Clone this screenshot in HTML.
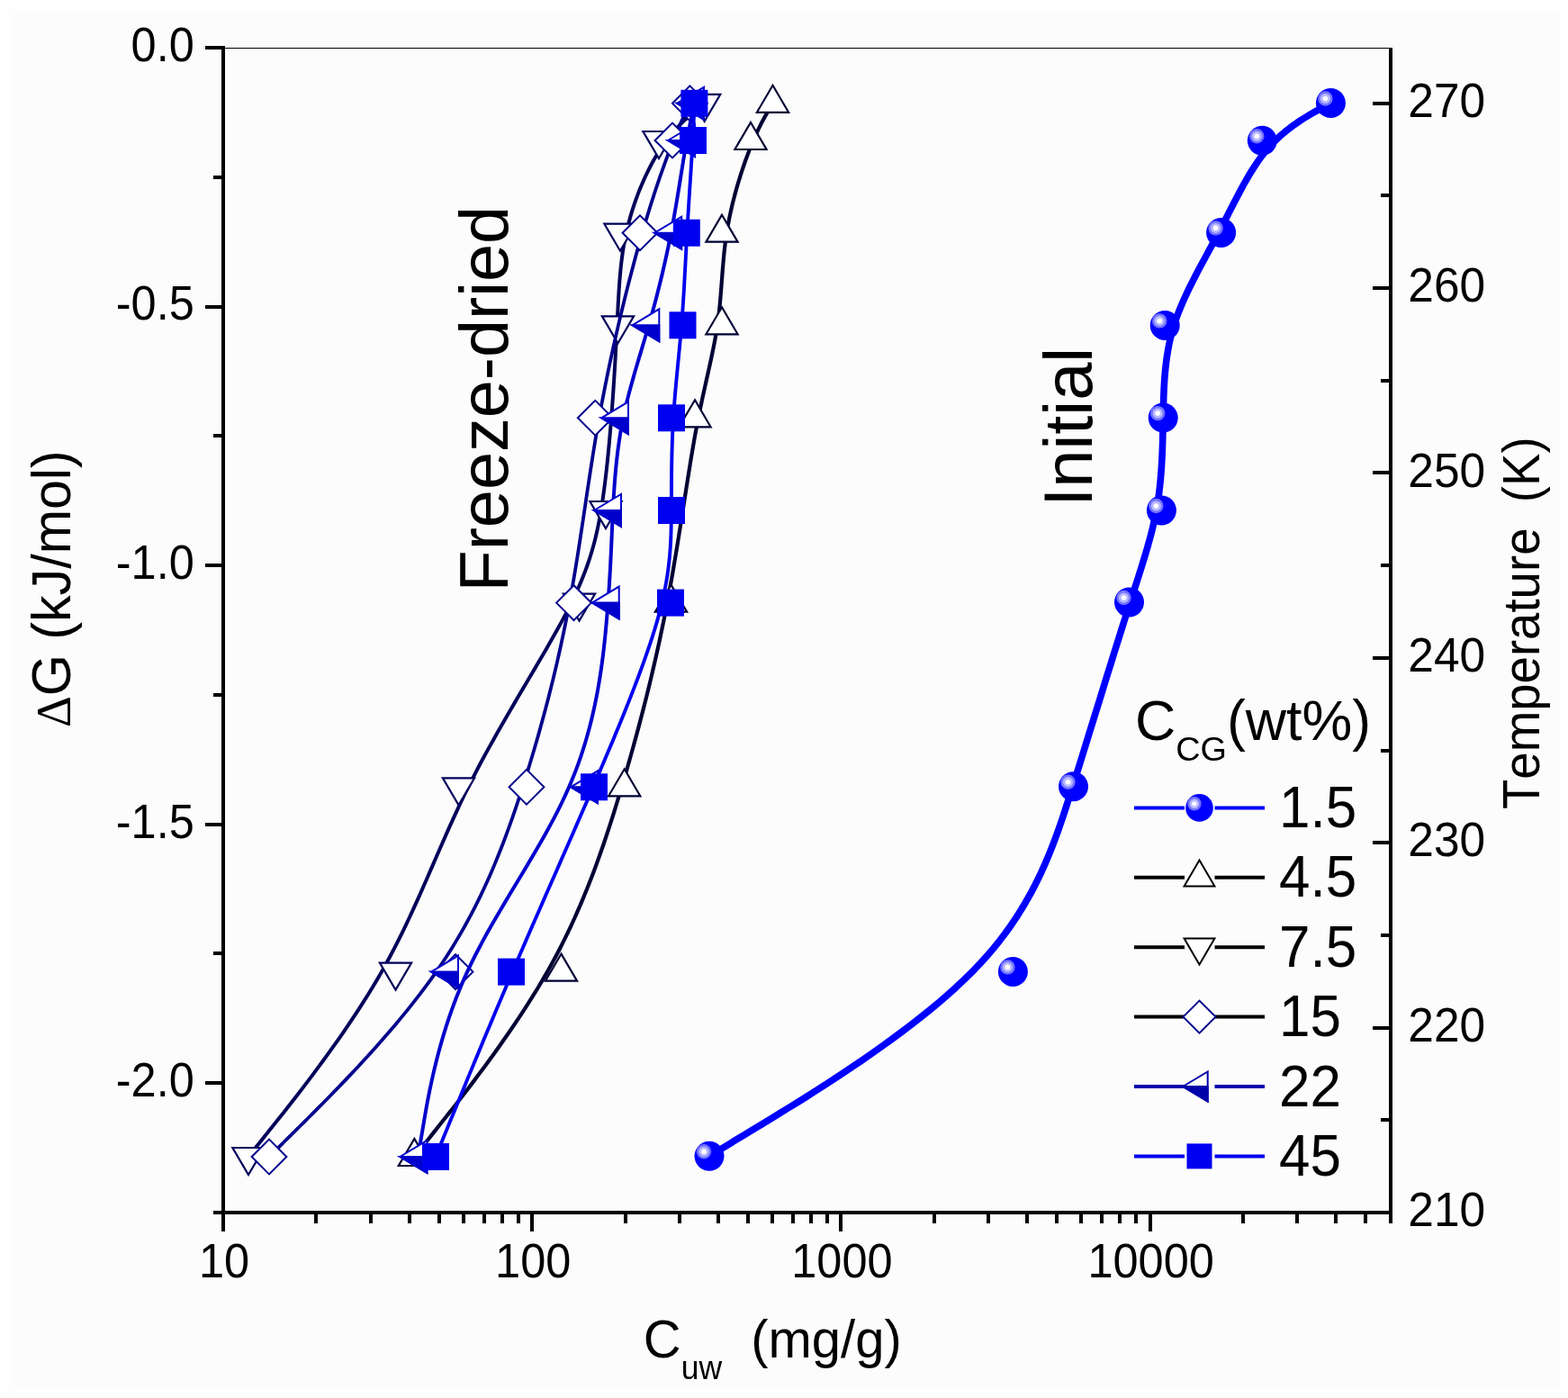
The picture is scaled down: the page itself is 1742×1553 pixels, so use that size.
<!DOCTYPE html><html><head><meta charset="utf-8"><title>Chart</title><style>html,body{margin:0;padding:0;background:#fdfdfd;overflow:hidden;}svg{display:block;}text{font-family:'Liberation Sans', Arial, sans-serif;fill:#000;font-kerning:none;}</style></head><body>
<svg width="1742" height="1553" viewBox="0 0 1742 1553">
<rect x="0" y="0" width="1742" height="1553" fill="#fefefe"/>
<rect x="13" y="13" width="1720" height="1528" fill="#fcfcfc"/>
<g shape-rendering="crispEdges"><line x1="248" y1="53.5" x2="1545" y2="53.5" stroke="#000" stroke-width="1.3"/><line x1="248" y1="51" x2="248" y2="1368" stroke="#000" stroke-width="4"/><line x1="1545" y1="53" x2="1545" y2="1359" stroke="#000" stroke-width="4"/><line x1="237" y1="1347" x2="1547" y2="1347" stroke="#000" stroke-width="4"/><line x1="228" y1="53" x2="248" y2="53" stroke="#000" stroke-width="4"/><line x1="237" y1="196.78" x2="248" y2="196.78" stroke="#000" stroke-width="4"/><line x1="228" y1="340.55" x2="248" y2="340.55" stroke="#000" stroke-width="4"/><line x1="237" y1="484.33" x2="248" y2="484.33" stroke="#000" stroke-width="4"/><line x1="228" y1="628.1" x2="248" y2="628.1" stroke="#000" stroke-width="4"/><line x1="237" y1="771.88" x2="248" y2="771.88" stroke="#000" stroke-width="4"/><line x1="228" y1="915.65" x2="248" y2="915.65" stroke="#000" stroke-width="4"/><line x1="237" y1="1059.43" x2="248" y2="1059.43" stroke="#000" stroke-width="4"/><line x1="228" y1="1203.2" x2="248" y2="1203.2" stroke="#000" stroke-width="4"/><line x1="237" y1="1346.98" x2="248" y2="1346.98" stroke="#000" stroke-width="4"/><line x1="248" y1="1347" x2="248" y2="1368" stroke="#000" stroke-width="4"/><line x1="351.31" y1="1347" x2="351.31" y2="1359" stroke="#000" stroke-width="4"/><line x1="411.75" y1="1347" x2="411.75" y2="1359" stroke="#000" stroke-width="4"/><line x1="454.63" y1="1347" x2="454.63" y2="1359" stroke="#000" stroke-width="4"/><line x1="487.89" y1="1347" x2="487.89" y2="1359" stroke="#000" stroke-width="4"/><line x1="515.06" y1="1347" x2="515.06" y2="1359" stroke="#000" stroke-width="4"/><line x1="538.04" y1="1347" x2="538.04" y2="1359" stroke="#000" stroke-width="4"/><line x1="557.94" y1="1347" x2="557.94" y2="1359" stroke="#000" stroke-width="4"/><line x1="575.5" y1="1347" x2="575.5" y2="1359" stroke="#000" stroke-width="4"/><line x1="591.2" y1="1347" x2="591.2" y2="1368" stroke="#000" stroke-width="4"/><line x1="694.51" y1="1347" x2="694.51" y2="1359" stroke="#000" stroke-width="4"/><line x1="754.95" y1="1347" x2="754.95" y2="1359" stroke="#000" stroke-width="4"/><line x1="797.83" y1="1347" x2="797.83" y2="1359" stroke="#000" stroke-width="4"/><line x1="831.09" y1="1347" x2="831.09" y2="1359" stroke="#000" stroke-width="4"/><line x1="858.26" y1="1347" x2="858.26" y2="1359" stroke="#000" stroke-width="4"/><line x1="881.24" y1="1347" x2="881.24" y2="1359" stroke="#000" stroke-width="4"/><line x1="901.14" y1="1347" x2="901.14" y2="1359" stroke="#000" stroke-width="4"/><line x1="918.7" y1="1347" x2="918.7" y2="1359" stroke="#000" stroke-width="4"/><line x1="934.4" y1="1347" x2="934.4" y2="1368" stroke="#000" stroke-width="4"/><line x1="1037.71" y1="1347" x2="1037.71" y2="1359" stroke="#000" stroke-width="4"/><line x1="1098.15" y1="1347" x2="1098.15" y2="1359" stroke="#000" stroke-width="4"/><line x1="1141.03" y1="1347" x2="1141.03" y2="1359" stroke="#000" stroke-width="4"/><line x1="1174.29" y1="1347" x2="1174.29" y2="1359" stroke="#000" stroke-width="4"/><line x1="1201.46" y1="1347" x2="1201.46" y2="1359" stroke="#000" stroke-width="4"/><line x1="1224.44" y1="1347" x2="1224.44" y2="1359" stroke="#000" stroke-width="4"/><line x1="1244.34" y1="1347" x2="1244.34" y2="1359" stroke="#000" stroke-width="4"/><line x1="1261.9" y1="1347" x2="1261.9" y2="1359" stroke="#000" stroke-width="4"/><line x1="1277.6" y1="1347" x2="1277.6" y2="1368" stroke="#000" stroke-width="4"/><line x1="1380.91" y1="1347" x2="1380.91" y2="1359" stroke="#000" stroke-width="4"/><line x1="1441.35" y1="1347" x2="1441.35" y2="1359" stroke="#000" stroke-width="4"/><line x1="1484.23" y1="1347" x2="1484.23" y2="1359" stroke="#000" stroke-width="4"/><line x1="1517.49" y1="1347" x2="1517.49" y2="1359" stroke="#000" stroke-width="4"/><line x1="1544.66" y1="1347" x2="1544.66" y2="1359" stroke="#000" stroke-width="4"/><line x1="1525" y1="1347" x2="1545" y2="1347" stroke="#000" stroke-width="4"/><line x1="1534" y1="1244.3" x2="1545" y2="1244.3" stroke="#000" stroke-width="4"/><line x1="1525" y1="1141.6" x2="1545" y2="1141.6" stroke="#000" stroke-width="4"/><line x1="1534" y1="1038.9" x2="1545" y2="1038.9" stroke="#000" stroke-width="4"/><line x1="1525" y1="936.2" x2="1545" y2="936.2" stroke="#000" stroke-width="4"/><line x1="1534" y1="833.5" x2="1545" y2="833.5" stroke="#000" stroke-width="4"/><line x1="1525" y1="730.8" x2="1545" y2="730.8" stroke="#000" stroke-width="4"/><line x1="1534" y1="628.1" x2="1545" y2="628.1" stroke="#000" stroke-width="4"/><line x1="1525" y1="525.4" x2="1545" y2="525.4" stroke="#000" stroke-width="4"/><line x1="1534" y1="422.7" x2="1545" y2="422.7" stroke="#000" stroke-width="4"/><line x1="1525" y1="320" x2="1545" y2="320" stroke="#000" stroke-width="4"/><line x1="1534" y1="217.3" x2="1545" y2="217.3" stroke="#000" stroke-width="4"/><line x1="1525" y1="114.6" x2="1545" y2="114.6" stroke="#000" stroke-width="4"/></g>
<text transform="translate(215.8,67.9) scale(1,1.057)" font-size="50.5" text-anchor="end">0.0</text>
<text transform="translate(215.8,355.45) scale(1,1.057)" font-size="50.5" text-anchor="end">-0.5</text>
<text transform="translate(215.8,643) scale(1,1.057)" font-size="50.5" text-anchor="end">-1.0</text>
<text transform="translate(215.8,930.55) scale(1,1.057)" font-size="50.5" text-anchor="end">-1.5</text>
<text transform="translate(215.8,1218.1) scale(1,1.057)" font-size="50.5" text-anchor="end">-2.0</text>
<text transform="translate(249,1419.1) scale(1,1.057)" font-size="50.5" text-anchor="middle">10</text>
<text transform="translate(592.2,1419.1) scale(1,1.057)" font-size="50.5" text-anchor="middle">100</text>
<text transform="translate(935.4,1419.1) scale(1,1.057)" font-size="50.5" text-anchor="middle">1000</text>
<text transform="translate(1278.6,1419.1) scale(1,1.057)" font-size="50.5" text-anchor="middle">10000</text>
<text transform="translate(1564.3,1362.1) scale(1,1.045)" font-size="51.5">210</text>
<text transform="translate(1564.3,1156.7) scale(1,1.045)" font-size="51.5">220</text>
<text transform="translate(1564.3,951.3) scale(1,1.045)" font-size="51.5">230</text>
<text transform="translate(1564.3,745.9) scale(1,1.045)" font-size="51.5">240</text>
<text transform="translate(1564.3,540.5) scale(1,1.045)" font-size="51.5">250</text>
<text transform="translate(1564.3,335.1) scale(1,1.045)" font-size="51.5">260</text>
<text transform="translate(1564.3,129.7) scale(1,1.045)" font-size="51.5">270</text>
<text transform="translate(77.8,807.9) rotate(-90) scale(1,1.03)" font-size="59.2"><tspan font-family="'Liberation Serif', 'Times New Roman', serif" font-size="54">&#916;</tspan><tspan font-size="59.2">G (kJ/mol)</tspan></text>
<text transform="translate(1710,899) rotate(-90) scale(1,1.06)" font-size="54.6">Temperature <tspan dx="13.2">(K)</tspan></text>
<text transform="translate(714.8,1508) scale(1,1.03)" font-size="58">C<tspan font-size="35.5" dy="23">uw</tspan><tspan dy="-23" font-size="58">&#160; (mg/g)</tspan></text>
<text transform="translate(564.2,657.5) rotate(-90)" font-size="75.6">Freeze-dried</text>
<text transform="translate(1212.8,562.8) rotate(-90)" font-size="75.8">Initial</text>
<path d="M1478.4,114.5 L1478.4,114.5 L1478.39,114.5 L1478.38,114.51 L1478.34,114.53 L1478.29,114.56 L1478.2,114.61 L1478.09,114.67 L1477.93,114.76 L1477.73,114.87 L1477.48,115 L1477.18,115.17 L1476.81,115.37 L1476.38,115.61 L1475.88,115.88 L1475.3,116.2 L1474.64,116.56 L1473.89,116.98 L1473.05,117.44 L1472.11,117.96 L1471.06,118.53 L1469.9,119.17 L1468.63,119.87 L1467.24,120.63 L1465.72,121.47 L1464.07,122.37 L1462.29,123.36 L1460.4,124.41 L1458.4,125.54 L1456.3,126.76 L1454.1,128.05 L1451.82,129.42 L1449.46,130.87 L1447.03,132.41 L1444.54,134.03 L1441.99,135.73 L1439.4,137.53 L1436.76,139.41 L1434.1,141.38 L1431.41,143.45 L1428.7,145.6 L1425.98,147.85 L1423.26,150.2 L1420.55,152.64 L1417.86,155.18 L1415.18,157.82 L1412.54,160.56 L1409.93,163.4 L1407.37,166.35 L1404.85,169.4 L1402.39,172.55 L1399.98,175.8 L1397.6,179.13 L1395.27,182.56 L1392.97,186.07 L1390.7,189.65 L1388.46,193.32 L1386.25,197.05 L1384.06,200.85 L1381.89,204.71 L1379.74,208.63 L1377.59,212.6 L1375.46,216.62 L1373.33,220.68 L1371.2,224.78 L1369.07,228.92 L1366.93,233.1 L1364.79,237.29 L1362.63,241.52 L1360.46,245.76 L1358.27,250.01 L1356.05,254.28 L1353.82,258.55 L1351.55,262.82 L1349.26,267.1 L1346.96,271.38 L1344.64,275.65 L1342.31,279.93 L1339.98,284.21 L1337.66,288.49 L1335.35,292.78 L1333.05,297.06 L1330.78,301.34 L1328.53,305.63 L1326.31,309.91 L1324.13,314.2 L1322,318.48 L1319.91,322.77 L1317.88,327.06 L1315.91,331.34 L1314,335.63 L1312.17,339.92 L1310.41,344.21 L1308.74,348.49 L1307.15,352.78 L1305.66,357.06 L1304.27,361.35 L1302.98,365.64 L1301.79,369.92 L1300.69,374.2 L1299.69,378.49 L1298.78,382.77 L1297.95,387.05 L1297.2,391.34 L1296.52,395.62 L1295.91,399.9 L1295.37,404.18 L1294.89,408.47 L1294.46,412.75 L1294.09,417.03 L1293.77,421.31 L1293.49,425.59 L1293.25,429.87 L1293.04,434.16 L1292.87,438.44 L1292.72,442.72 L1292.6,447 L1292.49,451.28 L1292.4,455.57 L1292.31,459.85 L1292.23,464.13 L1292.15,468.42 L1292.07,472.7 L1291.99,476.98 L1291.89,481.27 L1291.79,485.55 L1291.68,489.84 L1291.55,494.12 L1291.4,498.4 L1291.23,502.69 L1291.05,506.97 L1290.83,511.25 L1290.59,515.54 L1290.32,519.82 L1290.02,524.1 L1289.69,528.38 L1289.32,532.66 L1288.91,536.94 L1288.45,541.21 L1287.96,545.49 L1287.41,549.76 L1286.82,554.04 L1286.17,558.31 L1285.47,562.58 L1284.72,566.85 L1283.9,571.12 L1283.03,575.39 L1282.1,579.68 L1281.11,583.99 L1280.06,588.33 L1278.96,592.7 L1277.8,597.12 L1276.59,601.59 L1275.32,606.12 L1274,610.71 L1272.62,615.37 L1271.2,620.12 L1269.72,624.96 L1268.18,629.89 L1266.6,634.92 L1264.97,640.07 L1263.28,645.33 L1261.55,650.72 L1259.77,656.24 L1257.94,661.9 L1256.06,667.72 L1254.14,673.68 L1252.17,679.81 L1250.15,686.12 L1248.09,692.59 L1245.98,699.24 L1243.83,706.05 L1241.65,713.02 L1239.42,720.14 L1237.15,727.4 L1234.85,734.79 L1232.51,742.31 L1230.14,749.95 L1227.74,757.7 L1225.31,765.56 L1222.85,773.51 L1220.36,781.55 L1217.85,789.68 L1215.31,797.88 L1212.75,806.15 L1210.17,814.48 L1207.57,822.86 L1204.96,831.29 L1202.32,839.76 L1199.67,848.26 L1197.01,856.78 L1194.33,865.32 L1191.65,873.87 L1188.95,882.42 L1186.23,890.97 L1183.46,899.52 L1180.62,908.08 L1177.69,916.64 L1174.66,925.19 L1171.51,933.75 L1168.21,942.31 L1164.75,950.87 L1161.11,959.43 L1157.27,967.99 L1153.21,976.55 L1148.91,985.12 L1144.35,993.68 L1139.52,1002.24 L1134.39,1010.8 L1128.94,1019.36 L1123.16,1027.92 L1117.02,1036.48 L1110.51,1045.04 L1103.61,1053.6 L1096.29,1062.16 L1088.55,1070.71 L1080.35,1079.27 L1071.7,1087.82 L1062.62,1096.35 L1053.15,1104.86 L1043.36,1113.31 L1033.26,1121.71 L1022.92,1130.04 L1012.38,1138.27 L1001.67,1146.4 L990.84,1154.4 L979.94,1162.28 L969.01,1170 L958.1,1177.56 L947.24,1184.95 L936.49,1192.14 L925.88,1199.12 L915.46,1205.88 L905.28,1212.4 L895.37,1218.67 L885.79,1224.67 L876.57,1230.39 L867.76,1235.81 L859.4,1240.92 L851.55,1245.71 L844.23,1250.15 L837.49,1254.24 L831.31,1258 L825.67,1261.42 L820.54,1264.54 L815.9,1267.36 L811.72,1269.89 L807.99,1272.16 L804.66,1274.18 L801.73,1275.96 L799.16,1277.52 L796.94,1278.87 L795.03,1280.03 L793.41,1281.01 L792.07,1281.83 L790.97,1282.5 L790.08,1283.04 L789.4,1283.45 L788.88,1283.77 L788.51,1283.99 L788.26,1284.14 L788.11,1284.23 L788.03,1284.28 L788,1284.3 L788,1284.3" fill="none" stroke="#0000ff" stroke-width="7.6" stroke-linejoin="round" stroke-linecap="round"/>
<circle cx="1478.4" cy="114.5" r="16.5" fill="#0000ff"/><circle cx="1472.4" cy="109.5" r="8.2" fill="#7474ff"/><circle cx="1472.4" cy="109.5" r="5.6" fill="#b8b8ff"/><circle cx="1472.4" cy="109.5" r="2.8" fill="#ffffff"/>
<circle cx="1402.3" cy="156.3" r="16.5" fill="#0000ff"/><circle cx="1396.3" cy="151.3" r="8.2" fill="#7474ff"/><circle cx="1396.3" cy="151.3" r="5.6" fill="#b8b8ff"/><circle cx="1396.3" cy="151.3" r="2.8" fill="#ffffff"/>
<circle cx="1356.6" cy="258.4" r="16.5" fill="#0000ff"/><circle cx="1350.6" cy="253.4" r="8.2" fill="#7474ff"/><circle cx="1350.6" cy="253.4" r="5.6" fill="#b8b8ff"/><circle cx="1350.6" cy="253.4" r="2.8" fill="#ffffff"/>
<circle cx="1294.2" cy="361.4" r="16.5" fill="#0000ff"/><circle cx="1288.2" cy="356.4" r="8.2" fill="#7474ff"/><circle cx="1288.2" cy="356.4" r="5.6" fill="#b8b8ff"/><circle cx="1288.2" cy="356.4" r="2.8" fill="#ffffff"/>
<circle cx="1292.2" cy="464.1" r="16.5" fill="#0000ff"/><circle cx="1286.2" cy="459.1" r="8.2" fill="#7474ff"/><circle cx="1286.2" cy="459.1" r="5.6" fill="#b8b8ff"/><circle cx="1286.2" cy="459.1" r="2.8" fill="#ffffff"/>
<circle cx="1290.4" cy="567" r="16.5" fill="#0000ff"/><circle cx="1284.4" cy="562" r="8.2" fill="#7474ff"/><circle cx="1284.4" cy="562" r="5.6" fill="#b8b8ff"/><circle cx="1284.4" cy="562" r="2.8" fill="#ffffff"/>
<circle cx="1254.5" cy="669" r="16.5" fill="#0000ff"/><circle cx="1248.5" cy="664" r="8.2" fill="#7474ff"/><circle cx="1248.5" cy="664" r="5.6" fill="#b8b8ff"/><circle cx="1248.5" cy="664" r="2.8" fill="#ffffff"/>
<circle cx="1192.5" cy="873.7" r="16.5" fill="#0000ff"/><circle cx="1186.5" cy="868.7" r="8.2" fill="#7474ff"/><circle cx="1186.5" cy="868.7" r="5.6" fill="#b8b8ff"/><circle cx="1186.5" cy="868.7" r="2.8" fill="#ffffff"/>
<circle cx="1125.4" cy="1079.4" r="16.5" fill="#0000ff"/><circle cx="1119.4" cy="1074.4" r="8.2" fill="#7474ff"/><circle cx="1119.4" cy="1074.4" r="5.6" fill="#b8b8ff"/><circle cx="1119.4" cy="1074.4" r="2.8" fill="#ffffff"/>
<circle cx="788" cy="1284.3" r="16.5" fill="#0000ff"/><circle cx="782" cy="1279.3" r="8.2" fill="#7474ff"/><circle cx="782" cy="1279.3" r="5.6" fill="#b8b8ff"/><circle cx="782" cy="1279.3" r="2.8" fill="#ffffff"/>
<path d="M858.5,114.8 L858.5,114.8 L858.5,114.8 L858.49,114.81 L858.48,114.83 L858.46,114.86 L858.44,114.91 L858.4,114.97 L858.35,115.05 L858.28,115.16 L858.2,115.3 L858.11,115.46 L857.99,115.66 L857.85,115.89 L857.69,116.16 L857.5,116.48 L857.29,116.83 L857.05,117.24 L856.78,117.7 L856.47,118.21 L856.14,118.77 L855.76,119.4 L855.35,120.09 L854.91,120.84 L854.42,121.67 L853.89,122.56 L853.31,123.53 L852.7,124.57 L852.05,125.69 L851.36,126.88 L850.63,128.16 L849.87,129.51 L849.08,130.95 L848.25,132.47 L847.39,134.07 L846.5,135.76 L845.58,137.54 L844.64,139.41 L843.66,141.36 L842.67,143.41 L841.65,145.56 L840.6,147.8 L839.53,150.13 L838.45,152.56 L837.34,155.1 L836.22,157.73 L835.08,160.47 L833.92,163.31 L832.75,166.25 L831.57,169.3 L830.37,172.45 L829.17,175.7 L827.97,179.05 L826.76,182.48 L825.56,186 L824.35,189.6 L823.16,193.27 L821.98,197.01 L820.8,200.83 L819.65,204.7 L818.51,208.63 L817.39,212.61 L816.3,216.65 L815.24,220.72 L814.2,224.84 L813.2,228.99 L812.23,233.18 L811.3,237.39 L810.41,241.62 L809.57,245.87 L808.77,250.13 L808.03,254.41 L807.33,258.68 L806.69,262.96 L806.11,267.24 L805.56,271.51 L805.06,275.79 L804.6,280.07 L804.17,284.34 L803.77,288.62 L803.4,292.9 L803.04,297.17 L802.7,301.45 L802.37,305.73 L802.04,310.01 L801.72,314.28 L801.39,318.56 L801.06,322.84 L800.72,327.12 L800.36,331.4 L799.97,335.68 L799.57,339.96 L799.13,344.24 L798.66,348.52 L798.15,352.8 L797.6,357.08 L797,361.37 L796.35,365.65 L795.65,369.94 L794.9,374.25 L794.11,378.58 L793.27,382.95 L792.4,387.34 L791.49,391.79 L790.54,396.28 L789.56,400.84 L788.55,405.46 L787.51,410.16 L786.45,414.94 L785.36,419.81 L784.25,424.77 L783.13,429.84 L781.99,435.02 L780.83,440.32 L779.67,445.74 L778.49,451.3 L777.31,457 L776.13,462.85 L774.95,468.85 L773.76,475.01 L772.58,481.35 L771.41,487.86 L770.24,494.54 L769.07,501.38 L767.9,508.38 L766.73,515.53 L765.56,522.82 L764.37,530.24 L763.18,537.78 L761.98,545.44 L760.77,553.22 L759.54,561.1 L758.3,569.07 L757.03,577.13 L755.75,585.27 L754.44,593.49 L753.11,601.77 L751.75,610.11 L750.36,618.5 L748.93,626.93 L747.48,635.4 L745.99,643.9 L744.46,652.42 L742.89,660.96 L741.28,669.5 L739.63,678.04 L737.93,686.58 L736.19,695.12 L734.41,703.66 L732.59,712.2 L730.72,720.73 L728.82,729.27 L726.87,737.81 L724.88,746.34 L722.86,754.88 L720.79,763.41 L718.69,771.95 L716.55,780.49 L714.37,789.02 L712.15,797.56 L709.9,806.09 L707.61,814.63 L705.29,823.17 L702.93,831.7 L700.54,840.24 L698.11,848.78 L695.65,857.32 L693.16,865.86 L690.63,874.4 L688.07,882.94 L685.48,891.49 L682.84,900.03 L680.15,908.57 L677.41,917.12 L674.61,925.67 L671.75,934.22 L668.82,942.76 L665.81,951.31 L662.72,959.86 L659.55,968.41 L656.28,976.96 L652.92,985.52 L649.45,994.07 L645.88,1002.62 L642.2,1011.18 L638.4,1019.73 L634.47,1028.28 L630.41,1036.84 L626.23,1045.39 L621.9,1053.95 L617.42,1062.5 L612.8,1071.06 L608.02,1079.62 L603.08,1088.17 L598,1096.71 L592.79,1105.22 L587.48,1113.68 L582.08,1122.09 L576.62,1130.42 L571.1,1138.66 L565.55,1146.8 L559.99,1154.82 L554.43,1162.71 L548.9,1170.45 L543.41,1178.02 L537.98,1185.42 L532.63,1192.62 L527.38,1199.62 L522.25,1206.39 L517.25,1212.93 L512.4,1219.21 L507.73,1225.22 L503.24,1230.96 L498.97,1236.39 L494.92,1241.51 L491.12,1246.31 L487.58,1250.77 L484.33,1254.87 L481.34,1258.63 L478.61,1262.07 L476.13,1265.19 L473.89,1268.01 L471.87,1270.56 L470.06,1272.83 L468.45,1274.86 L467.04,1276.64 L465.8,1278.2 L464.72,1279.56 L463.8,1280.72 L463.02,1281.7 L462.37,1282.52 L461.83,1283.19 L461.41,1283.73 L461.07,1284.15 L460.82,1284.47 L460.65,1284.69 L460.53,1284.84 L460.45,1284.93 L460.42,1284.98 L460.4,1285 L460.4,1285" fill="none" stroke="#000033" stroke-width="4.2" stroke-linejoin="round" stroke-linecap="round"/><path d="M858.5,94.8 L876.1,124.8 L840.9,124.8 Z" fill="#fff" stroke="#000033" stroke-width="2.2" stroke-linejoin="miter"/><path d="M834,136 L851.6,166 L816.4,166 Z" fill="#fff" stroke="#000033" stroke-width="2.2" stroke-linejoin="miter"/><path d="M802,238.7 L819.6,268.7 L784.4,268.7 Z" fill="#fff" stroke="#000033" stroke-width="2.2" stroke-linejoin="miter"/><path d="M802,341.3 L819.6,371.3 L784.4,371.3 Z" fill="#fff" stroke="#000033" stroke-width="2.2" stroke-linejoin="miter"/><path d="M772,444.3 L789.6,474.3 L754.4,474.3 Z" fill="#fff" stroke="#000033" stroke-width="2.2" stroke-linejoin="miter"/><path d="M745.5,649.6 L763.1,679.6 L727.9,679.6 Z" fill="#fff" stroke="#000033" stroke-width="2.2" stroke-linejoin="miter"/><path d="M693.7,854.3 L711.3,884.3 L676.1,884.3 Z" fill="#fff" stroke="#000033" stroke-width="2.2" stroke-linejoin="miter"/><path d="M623.5,1059.6 L641.1,1089.6 L605.9,1089.6 Z" fill="#fff" stroke="#000033" stroke-width="2.2" stroke-linejoin="miter"/><path d="M460.4,1265 L478,1295 L442.8,1295 Z" fill="#fff" stroke="#000033" stroke-width="2.2" stroke-linejoin="miter"/>
<path d="M782.7,114.8 L782.7,114.8 L782.7,114.8 L782.68,114.81 L782.66,114.83 L782.62,114.86 L782.57,114.91 L782.49,114.97 L782.39,115.05 L782.25,115.16 L782.09,115.3 L781.89,115.46 L781.64,115.66 L781.36,115.89 L781.02,116.16 L780.64,116.48 L780.2,116.83 L779.7,117.24 L779.14,117.7 L778.51,118.21 L777.81,118.77 L777.04,119.4 L776.19,120.09 L775.26,120.84 L774.25,121.67 L773.15,122.56 L771.97,123.53 L770.7,124.57 L769.37,125.69 L767.96,126.88 L766.48,128.16 L764.94,129.51 L763.34,130.95 L761.69,132.47 L759.99,134.07 L758.24,135.76 L756.45,137.54 L754.63,139.41 L752.77,141.36 L750.88,143.41 L748.97,145.56 L747.03,147.8 L745.08,150.13 L743.12,152.56 L741.15,155.1 L739.18,157.73 L737.21,160.47 L735.24,163.31 L733.28,166.25 L731.34,169.3 L729.41,172.45 L727.5,175.7 L725.61,179.05 L723.74,182.48 L721.9,186 L720.08,189.6 L718.3,193.27 L716.54,197.01 L714.83,200.83 L713.15,204.7 L711.5,208.63 L709.9,212.61 L708.35,216.65 L706.84,220.72 L705.38,224.84 L703.97,228.99 L702.62,233.18 L701.32,237.39 L700.08,241.62 L698.9,245.87 L697.78,250.13 L696.73,254.41 L695.75,258.68 L694.84,262.96 L693.99,267.25 L693.21,271.55 L692.48,275.87 L691.81,280.22 L691.19,284.61 L690.62,289.05 L690.1,293.53 L689.61,298.08 L689.17,302.69 L688.75,307.38 L688.36,312.15 L688,317 L687.67,321.96 L687.35,327.02 L687.04,332.19 L686.75,337.48 L686.46,342.9 L686.17,348.45 L685.89,354.14 L685.6,359.99 L685.3,365.99 L684.99,372.15 L684.67,378.48 L684.32,384.99 L683.96,391.67 L683.58,398.49 L683.18,405.45 L682.75,412.52 L682.31,419.71 L681.84,426.98 L681.36,434.32 L680.85,441.73 L680.32,449.18 L679.76,456.66 L679.19,464.15 L678.59,471.64 L677.96,479.12 L677.31,486.57 L676.64,493.98 L675.94,501.32 L675.22,508.59 L674.47,515.78 L673.7,522.85 L672.9,529.81 L672.07,536.63 L671.22,543.31 L670.33,549.82 L669.42,556.15 L668.48,562.32 L667.49,568.35 L666.46,574.23 L665.37,580 L664.23,585.67 L663.02,591.24 L661.73,596.74 L660.37,602.18 L658.92,607.57 L657.38,612.93 L655.74,618.28 L654,623.62 L652.14,628.98 L650.17,634.37 L648.07,639.81 L645.85,645.3 L643.49,650.86 L640.98,656.51 L638.33,662.27 L635.51,668.14 L632.54,674.15 L629.4,680.3 L626.08,686.62 L622.59,693.11 L618.92,699.77 L615.1,706.59 L611.14,713.56 L607.04,720.69 L602.82,727.96 L598.49,735.35 L594.07,742.88 L589.56,750.52 L584.98,758.28 L580.34,766.13 L575.66,774.09 L570.93,782.13 L566.19,790.26 L561.44,798.46 L556.68,806.73 L551.94,815.05 L547.23,823.43 L542.55,831.86 L537.93,840.32 L533.36,848.81 L528.87,857.33 L524.47,865.86 L520.17,874.4 L515.97,882.94 L511.87,891.49 L507.87,900.03 L503.93,908.57 L500.07,917.12 L496.26,925.67 L492.49,934.22 L488.75,942.76 L485.03,951.31 L481.32,959.86 L477.61,968.41 L473.89,976.96 L470.13,985.52 L466.35,994.07 L462.51,1002.62 L458.61,1011.18 L454.64,1019.73 L450.59,1028.28 L446.45,1036.84 L442.2,1045.39 L437.83,1053.95 L433.34,1062.5 L428.7,1071.06 L423.92,1079.62 L418.97,1088.17 L413.89,1096.71 L408.68,1105.22 L403.36,1113.68 L397.95,1122.09 L392.48,1130.42 L386.95,1138.66 L381.39,1146.8 L375.82,1154.82 L370.25,1162.71 L364.71,1170.45 L359.21,1178.02 L353.77,1185.42 L348.41,1192.62 L343.14,1199.62 L338,1206.39 L332.99,1212.93 L328.13,1219.21 L323.44,1225.22 L318.95,1230.96 L314.66,1236.39 L310.61,1241.51 L306.8,1246.31 L303.25,1250.77 L299.98,1254.87 L296.99,1258.63 L294.26,1262.07 L291.77,1265.19 L289.52,1268.01 L287.5,1270.56 L285.68,1272.83 L284.07,1274.86 L282.65,1276.64 L281.41,1278.2 L280.33,1279.56 L279.41,1280.72 L278.62,1281.7 L277.97,1282.52 L277.44,1283.19 L277.01,1283.73 L276.68,1284.15 L276.43,1284.47 L276.25,1284.69 L276.13,1284.84 L276.05,1284.93 L276.02,1284.98 L276,1285 L276,1285" fill="none" stroke="#00005a" stroke-width="4.0" stroke-linejoin="round" stroke-linecap="round"/><path d="M782.7,134.8 L800.3,104.8 L765.1,104.8 Z" fill="#fff" stroke="#00005a" stroke-width="2.2"/><path d="M732,176 L749.6,146 L714.4,146 Z" fill="#fff" stroke="#00005a" stroke-width="2.2"/><path d="M689,278.7 L706.6,248.7 L671.4,248.7 Z" fill="#fff" stroke="#00005a" stroke-width="2.2"/><path d="M686.5,381.3 L704.1,351.3 L668.9,351.3 Z" fill="#fff" stroke="#00005a" stroke-width="2.2"/><path d="M673,587 L690.6,557 L655.4,557 Z" fill="#fff" stroke="#00005a" stroke-width="2.2"/><path d="M643.5,689.6 L661.1,659.6 L625.9,659.6 Z" fill="#fff" stroke="#00005a" stroke-width="2.2"/><path d="M509.5,894.3 L527.1,864.3 L491.9,864.3 Z" fill="#fff" stroke="#00005a" stroke-width="2.2"/><path d="M439.5,1099.6 L457.1,1069.6 L421.9,1069.6 Z" fill="#fff" stroke="#00005a" stroke-width="2.2"/><path d="M276,1305 L293.6,1275 L258.4,1275 Z" fill="#fff" stroke="#00005a" stroke-width="2.2"/>
<path d="M766.4,114.8 L766.4,114.8 L766.4,114.8 L766.39,114.81 L766.39,114.83 L766.37,114.86 L766.35,114.91 L766.32,114.97 L766.28,115.05 L766.23,115.16 L766.17,115.3 L766.09,115.46 L766,115.66 L765.89,115.89 L765.76,116.16 L765.61,116.48 L765.44,116.83 L765.25,117.24 L765.04,117.7 L764.8,118.21 L764.53,118.77 L764.23,119.4 L763.91,120.09 L763.55,120.84 L763.17,121.67 L762.75,122.56 L762.29,123.53 L761.8,124.57 L761.28,125.69 L760.73,126.88 L760.14,128.16 L759.52,129.51 L758.87,130.95 L758.19,132.47 L757.47,134.07 L756.73,135.76 L755.95,137.54 L755.14,139.41 L754.3,141.36 L753.43,143.41 L752.53,145.56 L751.59,147.8 L750.63,150.13 L749.64,152.56 L748.62,155.1 L747.57,157.73 L746.48,160.47 L745.37,163.31 L744.23,166.25 L743.06,169.3 L741.87,172.46 L740.64,175.74 L739.39,179.13 L738.11,182.64 L736.8,186.27 L735.46,190.02 L734.1,193.91 L732.7,197.92 L731.29,202.07 L729.84,206.35 L728.37,210.77 L726.87,215.34 L725.35,220.05 L723.8,224.92 L722.22,229.93 L720.62,235.1 L718.99,240.42 L717.34,245.91 L715.67,251.56 L713.96,257.37 L712.24,263.36 L710.49,269.52 L708.72,275.85 L706.92,282.36 L705.1,289.04 L703.27,295.89 L701.42,302.89 L699.55,310.04 L697.68,317.33 L695.8,324.76 L693.92,332.31 L692.03,339.98 L690.15,347.77 L688.27,355.65 L686.4,363.64 L684.55,371.71 L682.7,379.86 L680.87,388.09 L679.06,396.39 L677.27,404.74 L675.51,413.15 L673.78,421.6 L672.07,430.08 L670.4,438.6 L668.77,447.14 L667.17,455.69 L665.62,464.25 L664.11,472.81 L662.64,481.37 L661.21,489.93 L659.81,498.49 L658.44,507.05 L657.1,515.6 L655.77,524.16 L654.47,532.71 L653.18,541.27 L651.89,549.82 L650.62,558.38 L649.34,566.93 L648.06,575.48 L646.78,584.03 L645.48,592.59 L644.18,601.14 L642.85,609.68 L641.5,618.23 L640.12,626.78 L638.72,635.33 L637.28,643.87 L635.8,652.41 L634.28,660.96 L632.72,669.5 L631.1,678.04 L629.44,686.58 L627.72,695.12 L625.96,703.66 L624.15,712.2 L622.29,720.73 L620.38,729.27 L618.42,737.81 L616.41,746.34 L614.36,754.88 L612.25,763.41 L610.1,771.95 L607.9,780.49 L605.65,789.02 L603.36,797.56 L601.01,806.09 L598.62,814.63 L596.19,823.17 L593.7,831.7 L591.17,840.24 L588.59,848.78 L585.97,857.32 L583.3,865.86 L580.58,874.4 L577.82,882.94 L575,891.49 L572.12,900.03 L569.18,908.57 L566.16,917.12 L563.05,925.67 L559.86,934.22 L556.57,942.76 L553.17,951.31 L549.66,959.86 L546.04,968.41 L542.28,976.96 L538.39,985.52 L534.36,994.07 L530.18,1002.62 L525.85,1011.18 L521.35,1019.73 L516.68,1028.28 L511.83,1036.84 L506.8,1045.39 L501.57,1053.95 L496.15,1062.5 L490.52,1071.06 L484.67,1079.62 L478.6,1088.17 L472.34,1096.71 L465.9,1105.22 L459.31,1113.68 L452.6,1122.09 L445.79,1130.42 L438.9,1138.66 L431.96,1146.8 L424.99,1154.82 L418.01,1162.71 L411.06,1170.45 L404.15,1178.02 L397.3,1185.42 L390.55,1192.62 L383.92,1199.62 L377.43,1206.39 L371.11,1212.93 L364.97,1219.21 L359.05,1225.22 L353.37,1230.96 L347.95,1236.39 L342.81,1241.51 L337.99,1246.31 L333.5,1250.77 L329.36,1254.87 L325.57,1258.63 L322.11,1262.07 L318.97,1265.19 L316.12,1268.01 L313.55,1270.56 L311.26,1272.83 L309.22,1274.86 L307.42,1276.64 L305.85,1278.2 L304.48,1279.56 L303.31,1280.72 L302.32,1281.7 L301.5,1282.52 L300.82,1283.19 L300.28,1283.73 L299.86,1284.15 L299.54,1284.47 L299.31,1284.69 L299.16,1284.84 L299.07,1284.93 L299.02,1284.98 L299,1285 L299,1285" fill="none" stroke="#00008c" stroke-width="3.8" stroke-linejoin="round" stroke-linecap="round"/><path d="M747,114.8 L766.4,95.4 L785.8,114.8 L766.4,134.2 Z" fill="#fff" stroke="#00008c" stroke-width="2.0"/><path d="M727.6,156 L747,136.6 L766.4,156 L747,175.4 Z" fill="#fff" stroke="#00008c" stroke-width="2.0"/><path d="M691.6,258.7 L711,239.3 L730.4,258.7 L711,278.1 Z" fill="#fff" stroke="#00008c" stroke-width="2.0"/><path d="M641.9,464.3 L661.3,444.9 L680.7,464.3 L661.3,483.7 Z" fill="#fff" stroke="#00008c" stroke-width="2.0"/><path d="M618.1,669.6 L637.5,650.2 L656.9,669.6 L637.5,689 Z" fill="#fff" stroke="#00008c" stroke-width="2.0"/><path d="M565.6,874.3 L585,854.9 L604.4,874.3 L585,893.7 Z" fill="#fff" stroke="#00008c" stroke-width="2.0"/><path d="M486.6,1079.6 L506,1060.2 L525.4,1079.6 L506,1099 Z" fill="#fff" stroke="#00008c" stroke-width="2.0"/><path d="M279.6,1285 L299,1265.6 L318.4,1285 L299,1304.4 Z" fill="#fff" stroke="#00008c" stroke-width="2.0"/>
<path d="M772,114.8 L772,114.8 L772,114.8 L772,114.81 L771.99,114.83 L771.98,114.86 L771.97,114.91 L771.96,114.97 L771.94,115.05 L771.91,115.16 L771.88,115.3 L771.84,115.46 L771.79,115.66 L771.74,115.89 L771.67,116.16 L771.59,116.48 L771.51,116.83 L771.41,117.24 L771.3,117.7 L771.17,118.21 L771.04,118.77 L770.88,119.4 L770.72,120.09 L770.53,120.84 L770.33,121.67 L770.12,122.56 L769.88,123.53 L769.63,124.57 L769.37,125.69 L769.08,126.88 L768.78,128.16 L768.47,129.51 L768.14,130.95 L767.8,132.47 L767.44,134.07 L767.07,135.76 L766.69,137.54 L766.3,139.41 L765.89,141.36 L765.47,143.41 L765.03,145.56 L764.59,147.8 L764.14,150.13 L763.67,152.56 L763.2,155.1 L762.71,157.73 L762.22,160.47 L761.71,163.31 L761.2,166.25 L760.68,169.3 L760.15,172.45 L759.61,175.7 L759.06,179.05 L758.5,182.48 L757.94,186 L757.36,189.6 L756.77,193.27 L756.17,197.01 L755.55,200.83 L754.93,204.7 L754.29,208.63 L753.64,212.61 L752.97,216.65 L752.3,220.72 L751.6,224.84 L750.9,228.99 L750.18,233.18 L749.44,237.39 L748.69,241.62 L747.92,245.87 L747.14,250.13 L746.34,254.41 L745.52,258.68 L744.68,262.96 L743.83,267.24 L742.96,271.51 L742.07,275.79 L741.16,280.07 L740.24,284.34 L739.3,288.62 L738.34,292.9 L737.37,297.17 L736.38,301.45 L735.37,305.73 L734.34,310.01 L733.3,314.28 L732.24,318.56 L731.17,322.84 L730.07,327.12 L728.96,331.4 L727.84,335.68 L726.69,339.96 L725.54,344.24 L724.36,348.52 L723.17,352.8 L721.96,357.08 L720.73,361.37 L719.49,365.65 L718.24,369.93 L716.97,374.22 L715.7,378.51 L714.42,382.79 L713.13,387.08 L711.85,391.36 L710.56,395.65 L709.29,399.94 L708.01,404.23 L706.75,408.51 L705.5,412.8 L704.27,417.09 L703.05,421.38 L701.85,425.67 L700.67,429.95 L699.52,434.24 L698.4,438.53 L697.31,442.82 L696.25,447.1 L695.22,451.39 L694.23,455.68 L693.29,459.96 L692.38,464.25 L691.52,468.54 L690.71,472.82 L689.94,477.1 L689.21,481.39 L688.52,485.67 L687.86,489.95 L687.25,494.24 L686.67,498.52 L686.12,502.8 L685.61,507.08 L685.12,511.36 L684.67,515.64 L684.24,519.92 L683.84,524.2 L683.46,528.48 L683.11,532.76 L682.78,537.04 L682.47,541.32 L682.18,545.6 L681.9,549.87 L681.64,554.15 L681.4,558.43 L681.17,562.71 L680.95,566.98 L680.74,571.26 L680.54,575.55 L680.34,579.85 L680.15,584.17 L679.96,588.52 L679.77,592.91 L679.58,597.34 L679.38,601.83 L679.18,606.37 L678.97,610.98 L678.75,615.66 L678.52,620.42 L678.28,625.28 L678.02,630.23 L677.74,635.28 L677.45,640.44 L677.13,645.72 L676.79,651.13 L676.42,656.67 L676.02,662.35 L675.6,668.17 L675.14,674.16 L674.66,680.3 L674.13,686.62 L673.57,693.11 L672.97,699.77 L672.31,706.59 L671.58,713.56 L670.79,720.69 L669.93,727.96 L668.98,735.35 L667.93,742.88 L666.79,750.52 L665.53,758.28 L664.16,766.13 L662.67,774.09 L661.04,782.13 L659.27,790.26 L657.36,798.46 L655.28,806.73 L653.05,815.05 L650.64,823.43 L648.05,831.86 L645.27,840.32 L642.3,848.81 L639.12,857.33 L635.73,865.86 L632.12,874.4 L628.28,882.94 L624.24,891.49 L620,900.03 L615.6,908.57 L611.03,917.12 L606.33,925.67 L601.51,934.22 L596.59,942.76 L591.59,951.31 L586.52,959.86 L581.41,968.41 L576.27,976.96 L571.12,985.52 L565.98,994.07 L560.87,1002.62 L555.8,1011.18 L550.8,1019.73 L545.87,1028.28 L541.05,1036.84 L536.34,1045.39 L531.78,1053.95 L527.36,1062.5 L523.12,1071.06 L519.07,1079.62 L515.22,1088.17 L511.58,1096.71 L508.13,1105.22 L504.87,1113.68 L501.8,1122.09 L498.91,1130.42 L496.18,1138.66 L493.63,1146.8 L491.23,1154.82 L488.98,1162.71 L486.89,1170.45 L484.93,1178.02 L483.11,1185.42 L481.41,1192.62 L479.84,1199.62 L478.39,1206.39 L477.04,1212.93 L475.8,1219.21 L474.65,1225.22 L473.6,1230.96 L472.63,1236.39 L471.74,1241.51 L470.92,1246.31 L470.17,1250.77 L469.48,1254.87 L468.84,1258.63 L468.26,1262.07 L467.74,1265.19 L467.26,1268.01 L466.83,1270.56 L466.45,1272.83 L466.11,1274.86 L465.81,1276.64 L465.54,1278.2 L465.32,1279.56 L465.12,1280.72 L464.96,1281.7 L464.82,1282.52 L464.7,1283.19 L464.61,1283.73 L464.54,1284.15 L464.49,1284.47 L464.45,1284.69 L464.43,1284.84 L464.41,1284.93 L464.4,1284.98 L464.4,1285 L464.4,1285" fill="none" stroke="#0000cc" stroke-width="4.0" stroke-linejoin="round" stroke-linecap="round"/><path d="M752,114.8 L782,96.8 L782,132.8 Z" fill="#fff" stroke="#0000cc" stroke-width="2.0"/><path d="M752,114.8 L782,114.8 L782,132.8 Z" fill="#0000cc" stroke="#0000cc" stroke-width="2.0"/><path d="M742,156 L772,138 L772,174 Z" fill="#fff" stroke="#0000cc" stroke-width="2.0"/><path d="M742,156 L772,156 L772,174 Z" fill="#0000cc" stroke="#0000cc" stroke-width="2.0"/><path d="M727.2,258.7 L757.2,240.7 L757.2,276.7 Z" fill="#fff" stroke="#0000cc" stroke-width="2.0"/><path d="M727.2,258.7 L757.2,258.7 L757.2,276.7 Z" fill="#0000cc" stroke="#0000cc" stroke-width="2.0"/><path d="M702.3,361.3 L732.3,343.3 L732.3,379.3 Z" fill="#fff" stroke="#0000cc" stroke-width="2.0"/><path d="M702.3,361.3 L732.3,361.3 L732.3,379.3 Z" fill="#0000cc" stroke="#0000cc" stroke-width="2.0"/><path d="M668,464.3 L698,446.3 L698,482.3 Z" fill="#fff" stroke="#0000cc" stroke-width="2.0"/><path d="M668,464.3 L698,464.3 L698,482.3 Z" fill="#0000cc" stroke="#0000cc" stroke-width="2.0"/><path d="M660,567 L690,549 L690,585 Z" fill="#fff" stroke="#0000cc" stroke-width="2.0"/><path d="M660,567 L690,567 L690,585 Z" fill="#0000cc" stroke="#0000cc" stroke-width="2.0"/><path d="M657.7,669.6 L687.7,651.6 L687.7,687.6 Z" fill="#fff" stroke="#0000cc" stroke-width="2.0"/><path d="M657.7,669.6 L687.7,669.6 L687.7,687.6 Z" fill="#0000cc" stroke="#0000cc" stroke-width="2.0"/><path d="M634,874.3 L664,856.3 L664,892.3 Z" fill="#fff" stroke="#0000cc" stroke-width="2.0"/><path d="M634,874.3 L664,874.3 L664,892.3 Z" fill="#0000cc" stroke="#0000cc" stroke-width="2.0"/><path d="M479,1079.6 L509,1061.6 L509,1097.6 Z" fill="#fff" stroke="#0000cc" stroke-width="2.0"/><path d="M479,1079.6 L509,1079.6 L509,1097.6 Z" fill="#0000cc" stroke="#0000cc" stroke-width="2.0"/><path d="M444.4,1285 L474.4,1267 L474.4,1303 Z" fill="#fff" stroke="#0000cc" stroke-width="2.0"/><path d="M444.4,1285 L474.4,1285 L474.4,1303 Z" fill="#0000cc" stroke="#0000cc" stroke-width="2.0"/>
<path d="M771.4,114.8 L771.4,114.8 L771.4,114.8 L771.4,114.81 L771.4,114.83 L771.4,114.86 L771.4,114.91 L771.39,114.97 L771.39,115.05 L771.39,115.16 L771.38,115.3 L771.38,115.46 L771.37,115.66 L771.36,115.89 L771.35,116.16 L771.34,116.48 L771.33,116.83 L771.32,117.24 L771.3,117.7 L771.28,118.21 L771.26,118.77 L771.24,119.4 L771.22,120.09 L771.19,120.84 L771.17,121.67 L771.14,122.56 L771.1,123.53 L771.07,124.57 L771.03,125.69 L770.98,126.88 L770.94,128.16 L770.88,129.51 L770.83,130.95 L770.77,132.47 L770.7,134.07 L770.63,135.76 L770.55,137.54 L770.47,139.41 L770.37,141.36 L770.28,143.41 L770.17,145.56 L770.06,147.8 L769.94,150.13 L769.81,152.56 L769.67,155.1 L769.53,157.73 L769.37,160.47 L769.21,163.31 L769.03,166.25 L768.85,169.3 L768.66,172.45 L768.45,175.7 L768.24,179.05 L768.02,182.48 L767.8,186 L767.57,189.6 L767.33,193.27 L767.09,197.01 L766.84,200.83 L766.59,204.7 L766.34,208.63 L766.08,212.61 L765.83,216.65 L765.57,220.72 L765.31,224.84 L765.05,228.99 L764.79,233.18 L764.53,237.39 L764.28,241.62 L764.02,245.87 L763.77,250.13 L763.53,254.41 L763.28,258.68 L763.05,262.96 L762.81,267.24 L762.58,271.51 L762.36,275.79 L762.13,280.07 L761.91,284.34 L761.68,288.62 L761.46,292.9 L761.23,297.17 L761.01,301.45 L760.77,305.73 L760.54,310.01 L760.3,314.28 L760.06,318.56 L759.8,322.84 L759.55,327.12 L759.28,331.4 L759.01,335.68 L758.72,339.96 L758.43,344.24 L758.12,348.52 L757.81,352.8 L757.48,357.08 L757.13,361.37 L756.78,365.65 L756.41,369.93 L756.03,374.22 L755.64,378.51 L755.24,382.79 L754.83,387.08 L754.42,391.36 L754.01,395.65 L753.59,399.94 L753.17,404.23 L752.75,408.51 L752.34,412.8 L751.93,417.09 L751.52,421.38 L751.12,425.67 L750.73,429.95 L750.35,434.24 L749.98,438.53 L749.63,442.82 L749.28,447.1 L748.96,451.39 L748.65,455.68 L748.35,459.96 L748.08,464.25 L747.83,468.54 L747.6,472.82 L747.4,477.1 L747.2,481.39 L747.03,485.67 L746.88,489.95 L746.74,494.24 L746.61,498.52 L746.5,502.8 L746.4,507.08 L746.32,511.36 L746.24,515.64 L746.17,519.92 L746.12,524.2 L746.07,528.48 L746.03,532.76 L745.99,537.04 L745.96,541.32 L745.94,545.6 L745.91,549.87 L745.89,554.15 L745.87,558.43 L745.85,562.71 L745.83,566.98 L745.81,571.26 L745.78,575.55 L745.74,579.85 L745.67,584.17 L745.58,588.52 L745.46,592.91 L745.3,597.34 L745.1,601.83 L744.85,606.37 L744.54,610.98 L744.17,615.66 L743.73,620.42 L743.22,625.28 L742.63,630.23 L741.95,635.28 L741.18,640.44 L740.31,645.72 L739.34,651.13 L738.26,656.67 L737.06,662.35 L735.75,668.17 L734.3,674.16 L732.72,680.3 L731,686.62 L729.14,693.11 L727.13,699.77 L724.99,706.59 L722.73,713.56 L720.33,720.69 L717.83,727.96 L715.2,735.35 L712.48,742.88 L709.65,750.52 L706.72,758.28 L703.7,766.13 L700.6,774.09 L697.42,782.13 L694.17,790.26 L690.85,798.46 L687.47,806.73 L684.03,815.05 L680.54,823.43 L677,831.86 L673.43,840.32 L669.82,848.81 L666.18,857.33 L662.51,865.86 L658.83,874.4 L655.14,882.94 L651.44,891.49 L647.72,900.03 L644,908.57 L640.27,917.12 L636.53,925.67 L632.79,934.22 L629.04,942.76 L625.29,951.31 L621.53,959.86 L617.78,968.41 L614.02,976.96 L610.27,985.52 L606.51,994.07 L602.76,1002.62 L599.02,1011.18 L595.28,1019.73 L591.54,1028.28 L587.82,1036.84 L584.1,1045.39 L580.39,1053.95 L576.69,1062.5 L573.01,1071.06 L569.33,1079.62 L565.67,1088.17 L562.04,1096.71 L558.42,1105.22 L554.84,1113.68 L551.29,1122.09 L547.78,1130.42 L544.32,1138.66 L540.91,1146.8 L537.56,1154.82 L534.28,1162.71 L531.06,1170.45 L527.92,1178.02 L524.85,1185.42 L521.88,1192.62 L518.99,1199.62 L516.2,1206.39 L513.51,1212.93 L510.93,1219.21 L508.46,1225.22 L506.11,1230.96 L503.88,1236.39 L501.78,1241.51 L499.82,1246.31 L498,1250.77 L496.32,1254.87 L494.78,1258.63 L493.38,1262.07 L492.1,1265.19 L490.95,1268.01 L489.91,1270.56 L488.98,1272.83 L488.15,1274.86 L487.42,1276.64 L486.78,1278.2 L486.22,1279.56 L485.75,1280.72 L485.35,1281.7 L485.01,1282.52 L484.74,1283.19 L484.52,1283.73 L484.35,1284.15 L484.22,1284.47 L484.13,1284.69 L484.06,1284.84 L484.03,1284.93 L484.01,1284.98 L484,1285 L484,1285" fill="none" stroke="#0000f0" stroke-width="3.9" stroke-linejoin="round" stroke-linecap="round"/><rect x="756.4" y="99.8" width="30" height="30" fill="#0000f0"/><rect x="755" y="141" width="30" height="30" fill="#0000f0"/><rect x="747.8" y="243.7" width="30" height="30" fill="#0000f0"/><rect x="743.5" y="346.3" width="30" height="30" fill="#0000f0"/><rect x="731" y="449.3" width="30" height="30" fill="#0000f0"/><rect x="731" y="552" width="30" height="30" fill="#0000f0"/><rect x="730" y="654.6" width="30" height="30" fill="#0000f0"/><rect x="645" y="859.3" width="30" height="30" fill="#0000f0"/><rect x="553" y="1064.6" width="30" height="30" fill="#0000f0"/><rect x="469" y="1270" width="30" height="30" fill="#0000f0"/>
<text transform="translate(1260.9,822.3)" font-size="62.7">C<tspan font-size="37.8" dy="23">CG</tspan><tspan dy="-23" font-size="62.7">(wt%)</tspan></text>
<line x1="1260" y1="897.4" x2="1316" y2="897.4" stroke="#0000ff" stroke-width="4.0"/>
<line x1="1349.5" y1="897.4" x2="1405" y2="897.4" stroke="#0000ff" stroke-width="4.0"/>
<circle cx="1332.5" cy="897.4" r="15.3" fill="#0000ff"/><circle cx="1326.92" cy="892.75" r="7.63" fill="#7474ff"/><circle cx="1326.92" cy="892.75" r="5.21" fill="#b8b8ff"/><circle cx="1326.92" cy="892.75" r="2.6" fill="#ffffff"/>
<text transform="translate(1421,919) scale(1,1.055)" font-size="62">1.5</text>
<line x1="1260" y1="974.8" x2="1316" y2="974.8" stroke="#000000" stroke-width="4.0"/>
<line x1="1349.5" y1="974.8" x2="1405" y2="974.8" stroke="#000000" stroke-width="4.0"/>
<path d="M1332.5,955.6 L1349.4,984.4 L1315.6,984.4 Z" fill="#fff" stroke="#000000" stroke-width="2.0" stroke-linejoin="miter"/>
<text transform="translate(1421,996.4) scale(1,1.055)" font-size="62">4.5</text>
<line x1="1260" y1="1052.2" x2="1316" y2="1052.2" stroke="#000000" stroke-width="4.0"/>
<line x1="1349.5" y1="1052.2" x2="1405" y2="1052.2" stroke="#000000" stroke-width="4.0"/>
<path d="M1332.5,1071.4 L1349.4,1042.6 L1315.6,1042.6 Z" fill="#fff" stroke="#000000" stroke-width="2.0"/>
<text transform="translate(1421,1073.8) scale(1,1.055)" font-size="62">7.5</text>
<line x1="1260" y1="1129.6" x2="1316" y2="1129.6" stroke="#000000" stroke-width="4.0"/>
<line x1="1349.5" y1="1129.6" x2="1405" y2="1129.6" stroke="#000000" stroke-width="4.0"/>
<path d="M1314.5,1129.6 L1332.5,1111.6 L1350.5,1129.6 L1332.5,1147.6 Z" fill="#fff" stroke="#00008c" stroke-width="2.0"/>
<text transform="translate(1421,1151.2) scale(1,1.055)" font-size="62">15</text>
<line x1="1260" y1="1207" x2="1316" y2="1207" stroke="#0000aa" stroke-width="4.0"/>
<line x1="1349.5" y1="1207" x2="1405" y2="1207" stroke="#0000aa" stroke-width="4.0"/>
<path d="M1314.1,1207 L1341.7,1190.44 L1341.7,1223.56 Z" fill="#fff" stroke="#0000aa" stroke-width="2.0"/><path d="M1314.1,1207 L1341.7,1207 L1341.7,1223.56 Z" fill="#0000aa" stroke="#0000aa" stroke-width="2.0"/>
<text transform="translate(1421,1228.6) scale(1,1.055)" font-size="62">22</text>
<line x1="1260" y1="1284.4" x2="1316" y2="1284.4" stroke="#0000f0" stroke-width="4.0"/>
<line x1="1349.5" y1="1284.4" x2="1405" y2="1284.4" stroke="#0000f0" stroke-width="4.0"/>
<rect x="1318.5" y="1270.4" width="28" height="28" fill="#0000f0"/>
<text transform="translate(1421,1306) scale(1,1.055)" font-size="62">45</text>
</svg></body></html>
